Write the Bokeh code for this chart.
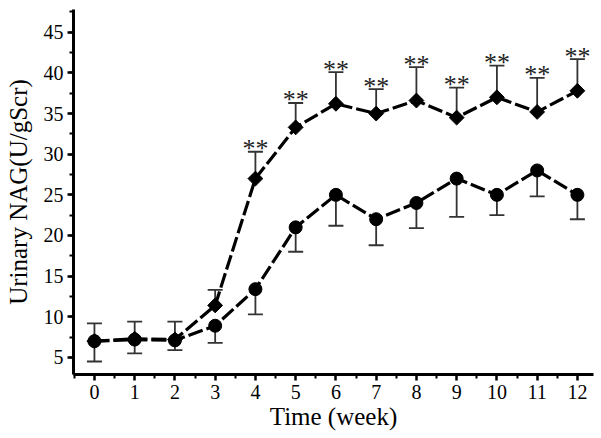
import math
from bokeh.plotting import figure
from bokeh.models import ColumnDataSource, Whisker, TeeHead, Range1d, FixedTicker
from bokeh.core.properties import value
from bokeh.embed import file_html
from bokeh.resources import INLINE

weeks = [0, 1, 2, 3, 4, 5, 6, 7, 8, 9, 10, 11, 12]
# diamond series (upper curve) and upper error bar tops
high_mean = [7.0, 7.3, 7.2, 11.4, 27.0, 33.3, 36.2, 35.0, 36.6, 34.5, 37.0, 35.2, 37.8]
high_err_top = [9.2, 9.4, 9.4, 13.3, 30.3, 36.3, 40.1, 38.0, 40.7, 38.2, 40.9, 39.4, 41.7]
# circle series (lower curve) and lower error bar bottoms
low_mean = [7.0, 7.2, 7.1, 8.9, 13.4, 21.0, 25.0, 22.0, 24.0, 27.0, 25.0, 28.0, 25.0]
low_err_bottom = [4.5, 5.5, 5.9, 6.8, 10.3, 18.0, 21.2, 18.8, 20.9, 22.3, 22.5, 24.8, 22.0]
star_weeks = [4, 5, 6, 7, 8, 9, 10, 11, 12]
star_labels = ["**"] * len(star_weeks)

FONT = "Liberation Serif"

p = figure(width=596, height=432, output_backend="svg", toolbar_location=None,
           x_range=Range1d(-0.52, 12.4), y_range=Range1d(2.9, 47.8),
           min_border_left=73, min_border_right=3, min_border_top=9, min_border_bottom=57)
p.outline_line_color = None
p.xgrid.visible = False
p.ygrid.visible = False
p.background_fill_color = "white"
p.border_fill_color = "white"

src_hi = ColumnDataSource(dict(x=weeks, y=high_mean, top=high_err_top))
src_lo = ColumnDataSource(dict(x=weeks, y=low_mean, bot=low_err_bottom))

p.add_layout(Whisker(source=src_hi, base="x", lower="y", upper="top",
                     line_color="#333333", line_width=1.8,
                     upper_head=TeeHead(size=15, line_color="#333333", line_width=1.8),
                     lower_head=None))
p.add_layout(Whisker(source=src_lo, base="x", lower="bot", upper="y",
                     line_color="#333333", line_width=1.8,
                     lower_head=TeeHead(size=15, line_color="#333333", line_width=1.8),
                     upper_head=None))

p.line("x", "y", source=src_hi, line_color="black", line_width=3.2, line_dash="15 4")
p.line("x", "y", source=src_lo, line_color="black", line_width=3.2, line_dash="15 4")

p.scatter("x", "y", source=src_hi, marker="square", angle=math.pi / 4, size=10.5,
          fill_color="black", line_color="black")
p.scatter("x", "y", source=src_lo, marker="circle", size=13,
          fill_color="black", line_color="black")

star_top = [high_err_top[weeks.index(w)] for w in star_weeks]
src_star = ColumnDataSource(dict(x=star_weeks, y=star_top, t=star_labels))
p.text("x", "y", text="t", source=src_star, text_font=value(FONT),
       text_font_size="26px", text_align="center", text_baseline="alphabetic",
       y_offset=-3, text_color="#222222")

p.xaxis.ticker = FixedTicker(ticks=weeks, minor_ticks=[w + 0.5 for w in weeks] + [-0.5])
p.yaxis.ticker = FixedTicker(ticks=[5, 10, 15, 20, 25, 30, 35, 40, 45],
                             minor_ticks=[2.5 * k for k in range(2, 20)])
for ax in (p.xaxis[0], p.yaxis[0]):
    ax.axis_line_width = 3
    ax.axis_line_color = "black"
    ax.major_tick_line_width = 2.5
    ax.major_tick_out = 6
    ax.major_tick_in = 0
    ax.minor_tick_line_width = 2
    ax.minor_tick_out = 4
    ax.minor_tick_in = 0
    ax.major_label_text_font = FONT
    ax.major_label_text_font_size = "20px"
    ax.major_label_text_color = "black"
    ax.axis_label_text_font = FONT
    ax.axis_label_text_font_size = "25px"
    ax.axis_label_text_font_style = "normal"
    ax.axis_label_text_color = "black"

p.xaxis.axis_label = "Time (week)"
p.yaxis.axis_label = "Urinary NAG(U/gScr)"
p.xaxis.major_label_standoff = 4
p.xaxis.axis_label_standoff = 1
p.yaxis.major_label_standoff = 4
p.yaxis.axis_label_standoff = 9

open("out.html", "w").write(file_html(p, INLINE))
